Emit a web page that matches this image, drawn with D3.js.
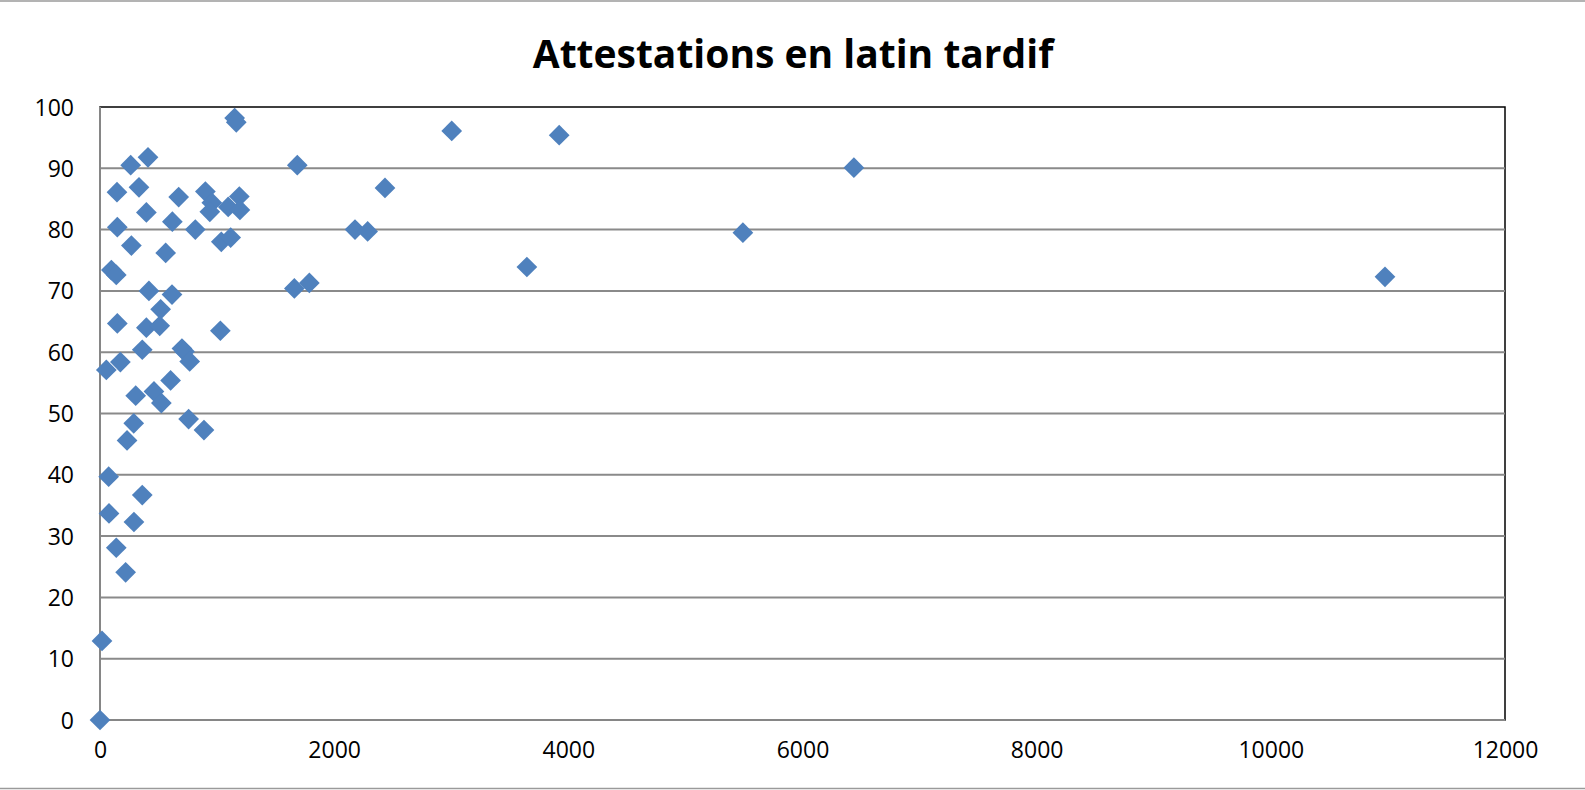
<!DOCTYPE html>
<html lang="fr">
<head>
<meta charset="UTF-8">
<title>Attestations en latin tardif</title>
<script src="https://cdn.jsdelivr.net/npm/d3@7"></script>
<style>
    body { margin: 0; background: #fff; }
    svg { display: block; }
    text { font-family: "Open Sans", "Liberation Sans", sans-serif; fill: #000; }
</style>
</head>
<body>
<div id="chart"></div>
<script>
    // valeurs (x = occurrences, y = pourcentage)
    const xValues = [0, 17, 74, 77, 54, 139, 219, 231, 288, 305, 290, 361, 361, 174, 148, 97, 139, 148, 145,
        262, 410, 333, 268, 396, 418, 396, 461, 524, 510, 518, 561, 618, 615, 603, 672, 700, 722, 766,
        757, 814, 888, 900, 955, 938, 1036, 1028, 1095, 1116, 1150, 1164, 1190, 1195,
        1660, 1685, 1788, 2178, 2286, 2434, 3004, 3646, 3922, 5491, 6439, 10975];
    const yValues = [0, 12.9, 39.7, 33.7, 57.1, 28.1, 24.1, 45.6, 48.4, 52.9, 32.3, 36.7, 60.4, 58.4, 64.7, 73.4, 72.6, 80.4, 86.1,
        90.5, 91.8, 86.9, 77.4, 82.8, 70.0, 64.0, 53.6, 51.7, 64.3, 67.0, 76.2, 81.3, 69.4, 55.4, 85.3, 60.6, 60.1, 58.5,
        49.1, 80.0, 47.3, 86.2, 84.4, 82.9, 78.0, 63.5, 83.7, 78.7, 98.2, 97.5, 85.4, 83.2,
        70.4, 90.5, 71.3, 80.0, 79.7, 86.8, 96.1, 73.9, 95.4, 79.5, 90.1, 72.3];
    const xTicks = [0, 2000, 4000, 6000, 8000, 10000, 12000];
    const yTicks = [0, 10, 20, 30, 40, 50, 60, 70, 80, 90, 100];
    const title = "Attestations en latin tardif";

    const width = 1585, height = 790;
    const margin = { top: 107, right: 80, bottom: 70, left: 100 };

    const svg = d3.select("#chart").append("svg")
        .attr("width", width)
        .attr("height", height);

    // cadre gris en haut et en bas
    svg.append("line").attr("x1", 0).attr("x2", width).attr("y1", 1).attr("y2", 1)
        .attr("stroke", "#9a9a9a").attr("stroke-width", 1.5);
    svg.append("line").attr("x1", 0).attr("x2", width).attr("y1", 788.5).attr("y2", 788.5)
        .attr("stroke", "#9a9a9a").attr("stroke-width", 1.5);

    const x = d3.scaleLinear().domain([0, 12000]).range([margin.left, width - margin.right]);
    const y = d3.scaleLinear().domain([0, 100]).range([height - margin.bottom, margin.top]);

    // bord du tracé
    svg.append("rect")
        .attr("x", x(0)).attr("y", y(100))
        .attr("width", x(12000) - x(0)).attr("height", y(0) - y(100))
        .attr("fill", "none").attr("stroke", "#000").attr("stroke-width", 1.5);

    // quadrillage horizontal
    svg.append("g")
        .selectAll("line")
        .data(yTicks.filter(d => d > 0 && d < 100))
        .enter()
        .append("line")
        .attr("x1", x(0)).attr("x2", x(12000))
        .attr("y1", d => y(d)).attr("y2", d => y(d))
        .attr("stroke", "#8a8a8a").attr("stroke-width", 2);

    // axes (gris)
    svg.append("line").attr("x1", x(0)).attr("x2", x(12000)).attr("y1", y(0)).attr("y2", y(0))
        .attr("stroke", "#868686").attr("stroke-width", 2);
    svg.append("line").attr("x1", x(0)).attr("x2", x(0)).attr("y1", y(0)).attr("y2", y(100))
        .attr("stroke", "#868686").attr("stroke-width", 2);

    // étiquettes des axes
    const yAxis = d3.axisLeft(y).tickValues(yTicks).tickSize(0).tickPadding(26);
    const gy = svg.append("g").attr("transform", "translate(" + x(0) + ",0)").call(yAxis);
    gy.select(".domain").remove();
    gy.selectAll("text").style("font-size", "23px").attr("dy", "0.35em");

    const xAxis = d3.axisBottom(x).tickValues(xTicks).tickFormat(d3.format("d")).tickSize(0).tickPadding(22);
    const gx = svg.append("g").attr("transform", "translate(0," + y(0) + ")").call(xAxis);
    gx.select(".domain").remove();
    gx.selectAll("text").style("font-size", "23px");

    // points en losange
    const diamond = d3.symbol().type(d3.symbolSquare).size(215);
    const points = xValues.map((v, i) => ({ x: v, y: yValues[i] }));
    svg.append("g")
        .selectAll("path")
        .data(points)
        .enter()
        .append("path")
        .attr("d", diamond)
        .attr("transform", d => "translate(" + x(d.x) + "," + y(d.y) + ") rotate(45)")
        .attr("fill", "#4F81BD");

    // titre
    svg.append("text")
        .attr("x", 793)
        .attr("y", 68)
        .attr("text-anchor", "middle")
        .style("font-size", "39px")
        .style("font-weight", "bold")
        .text(title);
</script>
</body>
</html>
